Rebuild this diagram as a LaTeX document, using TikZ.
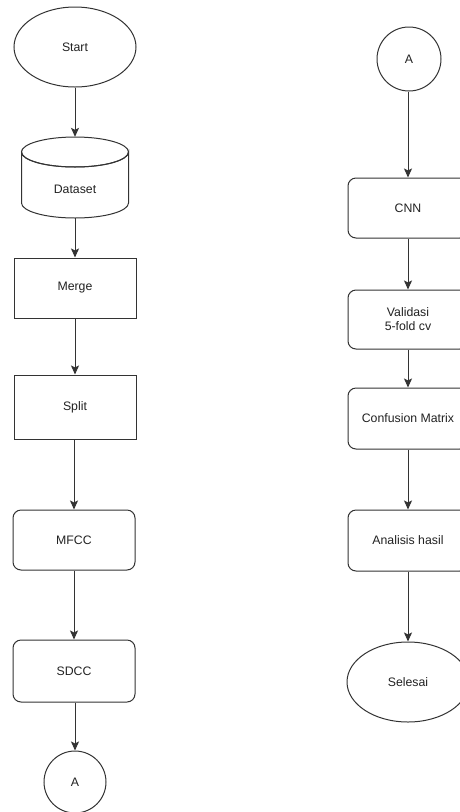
\documentclass[tikz,border=0pt]{standalone}
\usepackage{fontspec}
\setmainfont{Liberation Sans}
\usetikzlibrary{arrows.meta,shapes.geometric}
\definecolor{ln}{HTML}{333333}
\definecolor{tx}{HTML}{222222}
\begin{document}
\begin{tikzpicture}[x=1pt,y=-1pt,
  every node/.style={font=\fontsize{12.3pt}{14pt}\selectfont, text=tx, align=center, inner sep=0pt},
  box/.style={rectangle, draw=ln, line width=1pt, fill=white, minimum width=122pt, minimum height=60pt},
  rbox/.style={box, rounded corners=8pt},
  rrbox/.style={rbox, minimum width=120pt},
  term/.style={ellipse, draw=ln, line width=1pt, fill=white, minimum width=122pt, minimum height=80pt},
  conn/.style={circle, draw=ln, line width=1pt, fill=white, minimum size=62pt},
  arr/.style={draw=ln, line width=1pt, -{Stealth[length=9pt,width=8pt,inset=2pt]}}
]
\useasboundingbox (0,0) rectangle (460,812);
\clip (0,0) rectangle (460,812);
\fill[white] (0,0) rectangle (460,812);

% left column
\node[term] (start) at (75,47) {Start};
\node[minimum width=107pt, minimum height=81pt] (dataset) at (75,177.5) {};
\draw[ln, line width=1pt, fill=white]
  (21.5,152) -- (21.5,203) arc[start angle=180, end angle=0, x radius=53.5, y radius=15]
  -- (128.5,152) arc[start angle=0, end angle=180, x radius=53.5, y radius=15] -- cycle;
\draw[ln, line width=1pt] (75,152) ellipse[x radius=53.5, y radius=15];
\node at (75,189) {Dataset};
\node[box] (merge) at (75,288) {Merge};
\node[box, minimum height=64pt] (split) at (75,407) {Split};
\node[rbox] (mfcc) at (74,540) {MFCC};
\node[rbox, minimum height=62pt] (sdcc) at (74,671) {SDCC};
\node[conn] (a1) at (75,782) {A};

\draw[arr] (start) -- (dataset.north);
\draw[arr] (dataset.south) -- (merge);
\draw[arr] (merge) -- (split);
\draw[arr] (split.south -| mfcc.north) -- (mfcc);
\draw[arr] (mfcc) -- (sdcc);
\draw[arr] (sdcc.south -| a1.north) -- (a1);

% right column
\node[conn, minimum size=64pt] (a2) at (409,59) {A};
\node[rrbox] (cnn) at (408,208) {CNN};
\node[rrbox, minimum height=59pt] (valid) at (408,319.5) {Validasi\\5-fold cv};
\node[rrbox, minimum height=61pt] (conf) at (408,418.5) {Confusion Matrix};
\node[rrbox, minimum height=61pt] (anal) at (408,540.5) {Analisis hasil};
\node[term] (selesai) at (408,682) {Selesai};

\draw[arr] (a2.south -| cnn.north) -- (cnn);
\draw[arr] (cnn) -- (valid);
\draw[arr] (valid) -- (conf);
\draw[arr] (conf) -- (anal);
\draw[arr] (anal) -- (selesai);
\end{tikzpicture}
\end{document}
